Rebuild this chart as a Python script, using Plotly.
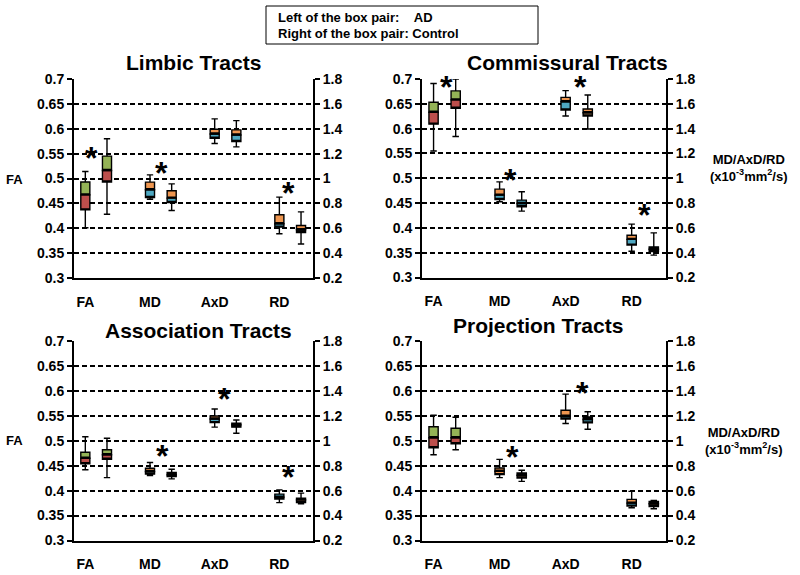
import plotly.graph_objects as go

# ---------------- data ----------------
categories = ["FA", "MD", "AxD", "RD"]
groups = ["AD", "Control"]
panel_titles = ["Limbic Tracts", "Commissural Tracts", "Association Tracts", "Projection Tracts"]
fa_ticks = [0.3, 0.35, 0.4, 0.45, 0.5, 0.55, 0.6, 0.65, 0.7]
fa_ticktext = ["0.3", "0.35", "0.4", "0.45", "0.5", "0.55", "0.6", "0.65", "0.7"]
diff_ticks = [0.2, 0.4, 0.6, 0.8, 1.0, 1.2, 1.4, 1.6, 1.8]
diff_ticktext = ["0.2", "0.4", "0.6", "0.8", "1", "1.2", "1.4", "1.6", "1.8"]

# order of boxes: FA-AD, FA-Control, MD-AD, MD-Control, AxD-AD, AxD-Control, RD-AD, RD-Control
# FA in FA units (left axis); MD/AxD/RD in x10^-3 mm^2/s (right axis)
limbic_max = [0.514, 0.580, 1.029, 0.957, 1.479, 1.465, 0.850, 0.732]
limbic_q3 = [0.493, 0.545, 0.971, 0.901, 1.396, 1.391, 0.708, 0.622]
limbic_med = [0.467, 0.516, 0.909, 0.842, 1.358, 1.350, 0.636, 0.588]
limbic_q1 = [0.437, 0.493, 0.847, 0.807, 1.324, 1.297, 0.609, 0.566]
limbic_min = [0.401, 0.428, 0.833, 0.743, 1.281, 1.254, 0.556, 0.473]

commissural_max = [0.691, 0.700, 0.971, 0.891, 1.706, 1.671, 0.630, 0.560]
commissural_q3 = [0.653, 0.676, 0.912, 0.824, 1.652, 1.558, 0.541, 0.447]
commissural_med = [0.633, 0.658, 0.864, 0.797, 1.617, 1.528, 0.507, 0.428]
commissural_q1 = [0.609, 0.641, 0.829, 0.770, 1.550, 1.502, 0.461, 0.410]
commissural_min = [0.555, 0.584, 0.810, 0.735, 1.502, 1.397, 0.412, 0.380]

association_max = [0.508, 0.505, 0.825, 0.772, 1.255, 1.167, 0.606, 0.580]
association_q3 = [0.477, 0.482, 0.780, 0.745, 1.199, 1.141, 0.572, 0.540]
association_med = [0.465, 0.472, 0.753, 0.726, 1.175, 1.127, 0.548, 0.526]
association_q1 = [0.454, 0.463, 0.732, 0.713, 1.145, 1.109, 0.532, 0.504]
association_min = [0.442, 0.426, 0.721, 0.694, 1.109, 1.060, 0.504, 0.494]

projection_max = [0.551, 0.547, 0.851, 0.763, 1.374, 1.232, 0.594, 0.522]
projection_q3 = [0.528, 0.525, 0.781, 0.741, 1.245, 1.191, 0.530, 0.514]
projection_med = [0.506, 0.506, 0.755, 0.723, 1.197, 1.170, 0.500, 0.495]
projection_q1 = [0.486, 0.494, 0.728, 0.701, 1.175, 1.143, 0.476, 0.473]
projection_min = [0.472, 0.482, 0.704, 0.674, 1.138, 1.092, 0.463, 0.455]

# significance markers: (category index, level in FA units)
limbic_sig = [(0, 0.547), (1, 0.517), (3, 0.476)]
commissural_sig = [(0, 0.689), (1, 0.503), (2, 0.689), (3, 0.433)]
association_sig = [(1, 0.476), (2, 0.590), (3, 0.433)]
projection_sig = [(1, 0.474), (2, 0.601)]

panel_stats = [
    (limbic_max, limbic_q3, limbic_med, limbic_q1, limbic_min),
    (commissural_max, commissural_q3, commissural_med, commissural_q1, commissural_min),
    (association_max, association_q3, association_med, association_q1, association_min),
    (projection_max, projection_q3, projection_med, projection_q1, projection_min),
]
panel_sig = [limbic_sig, commissural_sig, association_sig, projection_sig]

# ---------------- styles ----------------
G, R, O, B, K = "#94B356", "#BD4F4C", "#EE9650", "#4EA8C2", "#2A2A2A"
T, BR = "#D9A577", "#8A5A3A"
panel_colors = [
    [(G, R), (G, R), (O, B), (O, B), (O, B), (O, B), (O, B), (O, K)],
    [(G, R), (G, R), (O, B), (B, B), (O, B), (O, T), (O, B), (B, B)],
    [(G, R), (G, R), (O, "#9AA8A0"), (K, K), (O, B), (K, K), (B, "#6F9AAE"), (O, BR)],
    [(G, R), (G, R), (O, O), (O, BR), (O, B), (B, B), (O, B), (O, BR)],
]
sig_frac = [[0.27, 0.55, 0.43], [0.6, 0.5, 0.67, 0.6], [0.56, 0.46, 0.43], [0.59, 0.76]]

FONT = "Liberation Sans, Arial, sans-serif"
W, H = 800, 575
OFF = 0.335
BOXW = 0.14
XRANGE = [-0.175, 3.52]
xdoms = [[74 / W, 313 / W], [422 / W, 666 / W], [74 / W, 313 / W], [422 / W, 666 / W]]
ydoms = [[1 - 278 / H, 1 - 79 / H], [1 - 277.5 / H, 1 - 79 / H],
         [1 - 540.5 / H, 1 - 341 / H], [1 - 540.5 / H, 1 - 341 / H]]

fig = go.Figure()
layout = {}
annotations = []

for p in range(4):
    xa = "x" if p == 0 else f"x{p + 1}"
    yl = "y" if p == 0 else f"y{2 * p + 1}"
    yr = f"y{2 * p + 2}"
    mx, q3, md, q1, mn = panel_stats[p]
    for j in range(8):
        cat, grp = j // 2, j % 2
        xpos = cat + grp * OFF
        yaxis = yl if cat == 0 else yr
        top_c, bot_c = panel_colors[p][j]
        common = dict(x=[xpos], xaxis=xa, yaxis=yaxis, width=BOXW, whiskerwidth=0.7,
                      boxpoints=False, line=dict(color="black", width=1.4),
                      showlegend=False, hoverinfo="skip",
                      name=f"{categories[cat]} {groups[grp]}")
        # lower half (Q1 -> median) with lower whisker
        fig.add_trace(go.Box(q1=[q1[j]], median=[q1[j]], q3=[md[j]],
                             lowerfence=[mn[j]], upperfence=[md[j]],
                             fillcolor=bot_c, **common))
        # upper half (median -> Q3) with upper whisker
        fig.add_trace(go.Box(q1=[md[j]], median=[md[j]], q3=[q3[j]],
                             lowerfence=[md[j]], upperfence=[mx[j]],
                             fillcolor=top_c, **common))

    for (cat, lvl), fr in zip(panel_sig[p], sig_frac[p]):
        annotations.append(dict(x=cat + fr * OFF, y=lvl, xref=xa, yref=yl, text="*",
                                showarrow=False, yshift=-3,
                                font=dict(family=FONT, size=32, color="black", weight="bold")))

    tickfont = dict(family=FONT, size=14, color="black", weight="bold")
    layout["xaxis" if p == 0 else f"xaxis{p + 1}"] = dict(
        domain=xdoms[p], range=XRANGE, anchor=yl, tickmode="array",
        tickvals=[0, 1, 2, 3], ticktext=categories, showline=True, linecolor="black",
        linewidth=2, ticks="outside", ticklen=10, tickcolor="rgba(0,0,0,0)",
        showgrid=False, zeroline=False, tickfont=tickfont, fixedrange=True,
        automargin=False)
    layout["yaxis" if p == 0 else f"yaxis{2 * p + 1}"] = dict(
        domain=ydoms[p], range=[0.3, 0.7], anchor=xa, tickmode="array",
        tickvals=fa_ticks, ticktext=fa_ticktext, showline=True, linecolor="black",
        linewidth=2, ticks="outside", ticklen=5, tickwidth=1.5, tickcolor="black",
        showgrid=True, gridcolor="black", gridwidth=1.5, griddash="5px,3px",
        zeroline=False, tickfont=tickfont, fixedrange=True, automargin=False)
    layout[f"yaxis{2 * p + 2}"] = dict(
        domain=ydoms[p], range=[0.2, 1.8], anchor=xa, overlaying=yl, side="right",
        tickmode="array", tickvals=diff_ticks, ticktext=diff_ticktext,
        showline=True, linecolor="black", linewidth=2, ticks="outside", ticklen=5,
        tickwidth=1.5, tickcolor="black", showgrid=False, zeroline=False,
        tickfont=tickfont, fixedrange=True, automargin=False)

# panel titles
title_pos = [(193, 62), (567, 62), (198, 330), (538, 325)]
for t, (tx, ty) in zip(panel_titles, title_pos):
    annotations.append(dict(x=tx / W, y=1 - ty / H, xref="paper", yref="paper", text=t,
                            showarrow=False, xanchor="center", yanchor="middle",
                            font=dict(family=FONT, size=21, color="black", weight="bold")))

lab_font = dict(family=FONT, size=13, color="black", weight="bold")
for ty in (179, 440):
    annotations.append(dict(x=14 / W, y=1 - ty / H, xref="paper", yref="paper", text="FA",
                            showarrow=False, xanchor="center", yanchor="middle", font=lab_font))
for tx, ty in ((748, 168), (743, 441)):
    annotations.append(dict(x=tx / W, y=1 - ty / H, xref="paper", yref="paper",
                            text="MD/AxD/RD<br>(x10<sup>-3</sup>mm<sup>2</sup>/s)",
                            showarrow=False, xanchor="center", yanchor="middle",
                            align="center", font=lab_font))

# key box
annotations.append(dict(x=276 / W, y=1 - 18 / H, xref="paper", yref="paper",
                        text="Left of the box pair:\u00a0\u00a0\u00a0\u00a0" + groups[0],
                        showarrow=False, xanchor="left", yanchor="middle", font=lab_font))
annotations.append(dict(x=276 / W, y=1 - 33 / H, xref="paper", yref="paper",
                        text="Right of the box pair: " + groups[1],
                        showarrow=False, xanchor="left", yanchor="middle", font=lab_font))

fig.update_layout(
    width=W, height=H, margin=dict(l=0, r=0, t=0, b=0, autoexpand=False),
    paper_bgcolor="white", plot_bgcolor="white", boxmode="overlay",
    annotations=annotations,
    shapes=[dict(type="rect", xref="paper", yref="paper", x0=266 / W, x1=538 / W,
                 y0=1 - 44 / H, y1=1 - 6 / H, line=dict(color="black", width=1))],
    **layout,
)

fig.write_html("out.html", config={"displayModeBar": False},
               post_script="document.body.style.margin='0';document.body.style.overflow='hidden';")
